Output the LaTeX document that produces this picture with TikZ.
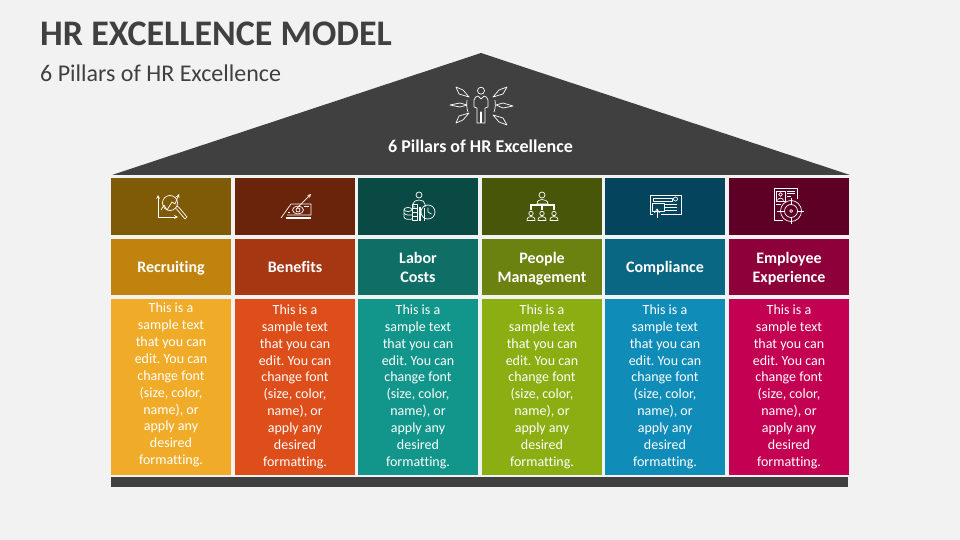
\documentclass[tikz,border=0pt]{standalone}
\usepackage{fontspec}
\setmainfont{Carlito}[Ligatures=NoCommon]
\definecolor{bg}{HTML}{F2F2F2}
\definecolor{dark}{HTML}{404040}
\definecolor{aA}{HTML}{7F5A07}\definecolor{aB}{HTML}{C0840E}\definecolor{aC}{HTML}{F0AC28}
\definecolor{bA}{HTML}{6B240C}\definecolor{bB}{HTML}{A53712}\definecolor{bC}{HTML}{DE4E1A}
\definecolor{cA}{HTML}{0A4A44}\definecolor{cB}{HTML}{0F6E66}\definecolor{cC}{HTML}{12958A}
\definecolor{dA}{HTML}{475608}\definecolor{dB}{HTML}{6B8210}\definecolor{dC}{HTML}{8BAE12}
\definecolor{eA}{HTML}{04445C}\definecolor{eB}{HTML}{0A6784}\definecolor{eC}{HTML}{0F8DB8}
\definecolor{fA}{HTML}{5E0025}\definecolor{fB}{HTML}{8E0039}\definecolor{fC}{HTML}{C30052}
\newcommand{\bodylines}{This is a\\sample text\\that you can\\edit. You can\\change font\\(size, color,\\name), or\\apply any\\desired\\formatting.}
\newcommand{\hs}{\rule[-4pt]{0pt}{13.6pt}}
\tikzset{
  x=1pt,y=-1pt,
  cell/.style={draw=none,inner sep=0pt,minimum width=120pt,text=white},
  iconcell/.style={cell,minimum height=57pt},
  headcell/.style={cell,minimum height=56pt},
  headtext/.style={inner sep=0pt,text=white,align=center,font=\fontsize{16}{19}\selectfont\bfseries},
  bodycell/.style={cell,minimum height=176pt},
  bodytext/.style={inner sep=0pt,text=white,align=center,font=\fontsize{14}{16.9}\selectfont\frenchspacing},
  ic/.style={draw=white,line width=0.7pt,line join=round,fill=none},
  icb/.style={draw=white,line width=1.1pt,fill=none},
}
\begin{document}
\begin{tikzpicture}
\useasboundingbox (0,0) rectangle (960,540);
\fill[bg] (0,0) rectangle (960,540);
\node[anchor=west,inner sep=0pt,text=dark,font=\fontsize{36}{40}\selectfont\bfseries] (title) at (40,34) {HR EXCELLENCE MODEL};
\node[anchor=west,inner sep=0pt,text=dark,font=\fontsize{24}{28}\selectfont] (subtitle) at (40,73) {6 Pillars of HR Excellence};
% roof
\fill[dark] (481,53) -- (850,175) -- (112,175) -- cycle;
\node[inner sep=0pt,text=white,font=\fontsize{18}{22}\selectfont\bfseries] (rooflabel) at (480.5,146.5) {6 Pillars of HR Excellence};
% base
\fill[dark] (111,477) rectangle (848,487);
% cells
\node[iconcell,fill=aA] (i1) at (171,206.5) {};
\node[iconcell,fill=bA] (i2) at (295,206.5) {};
\node[iconcell,fill=cA] (i3) at (418,206.5) {};
\node[iconcell,fill=dA] (i4) at (542,206.5) {};
\node[iconcell,fill=eA] (i5) at (665,206.5) {};
\node[iconcell,fill=fA] (i6) at (789,206.5) {};
\node[headcell,fill=aB] (h1) at (171,267) {};
\node[headcell,fill=bB] (h2) at (295,267) {};
\node[headcell,fill=cB] (h3) at (418,267) {};
\node[headcell,fill=dB] (h4) at (542,267) {};
\node[headcell,fill=eB] (h5) at (665,267) {};
\node[headcell,fill=fB] (h6) at (789,267) {};
\node[headtext] (l1) at (171,269) {Recruiting\hs};
\node[headtext] (l2) at (295,269) {Benefits\hs};
\node[headtext] (l3) at (418,269) {Labor\hs\\Costs\hs};
\node[headtext] (l4) at (542,269) {People\hs\\Management\hs};
\node[headtext] (l5) at (665,269) {Compliance\hs};
\node[headtext] (l6) at (789,269) {Employee\hs\\Experience\hs};
\node[bodycell,fill=aC] (b1) at (171,386.5) {};
\node[bodycell,fill=bC] (b2) at (295,386.5) {};
\node[bodycell,fill=cC] (b3) at (418,386.5) {};
\node[bodycell,fill=dC] (b4) at (542,386.5) {};
\node[bodycell,fill=eC] (b5) at (665,386.5) {};
\node[bodycell,fill=fC] (b6) at (789,386.5) {};
\node[bodytext] (t1) at (171,385) {\bodylines};
\node[bodytext] (t2) at (295,386.7) {\bodylines};
\node[bodytext] (t3) at (418,386.7) {\bodylines};
\node[bodytext] (t4) at (542,386.7) {\bodylines};
\node[bodytext] (t5) at (665,386.7) {\bodylines};
\node[bodytext] (t6) at (789,386.7) {\bodylines};
% roof icon
\draw[ic] (481,90.7) circle (3.5);
\draw[ic] (477,123) -- (477,108) -- (474,107) -- (474,100) .. controls (474,97) and (477,96.5) .. (478,96) -- (481,99) -- (484,96) .. controls (485,96.5) and (488,97) .. (488,100) -- (488,107) -- (485,108) -- (485,123) -- (481.5,123) -- (481.5,112) -- (480.5,112) -- (480.5,123) -- cycle;
\draw[ic] (469,97) -- (463,90) -- (456,87) -- (459,94) -- cycle;
\draw[ic] (467,105) -- (460,103) -- (450,105) -- (460,107) -- cycle;
\draw[ic] (469,113) -- (463,120) -- (456,123) -- (459,116) -- cycle;
\draw[ic] (493,97) -- (499,90) -- (507,87) -- (503,94) -- cycle;
\draw[ic] (496,105) -- (503,103) -- (513,106) -- (503,108) -- cycle;
\draw[ic] (493,115) -- (499,122) -- (507,125) -- (503,118) -- cycle;
\draw[ic] (467,100) .. controls (466.5,104) and (466.5,108) .. (468,112);
\draw[ic] (495,100) .. controls (495.5,104) and (495.5,108) .. (494,112);
% icon 1: recruiting
\draw[ic,-stealth] (158,217) -- (158,195);
\draw[ic,-stealth] (158,217) -- (178,217);
\draw[ic] (170,203) circle (7.5);
\draw[ic] (175.5,208) -- (177,209.5) -- (185,219) -- (187,217) -- (179,207.5) -- (177,206);
\draw[ic,-stealth] (161,210) -- (164,205) -- (167,210) -- (172,202) -- (175,204) -- (179,194);
% icon 2: benefits
\draw[ic,-stealth] (297,208) -- (311,194);
\draw[ic] (281,218) -- (291,204) -- (311,204) -- (311,215) -- (287,215);
\draw[ic] (298,210) ellipse (5.5 and 4);
\draw[ic] (298,210) circle (2);
\draw[ic] (304,206) -- (309,206) (288,212) -- (290,212);
\draw[icb] (286,218) -- (311,218);
% icon 3: labor costs
\draw[ic] (419,195) circle (3);
\draw[ic] (415,207) -- (413,207) -- (413,204) .. controls (413,201) and (416,200.5) .. (419,200) .. controls (422,200.5) and (425,201) .. (425,204) -- (425,207);
\draw[ic] (408,209.5) ellipse (4 and 2);
\draw[ic] (404,209.5) -- (404,217) .. controls (404,219) and (408,220) .. (412,219);
\draw[ic] (404,213) .. controls (405,215) and (409,215.5) .. (412,215);
\draw[ic] (412,204) rectangle (417,220);
\draw[ic] (412,208) -- (417,208) (412,212) -- (417,212) (412,216) -- (417,216);
\draw[icb] (420,207) -- (420,221);
\draw[ic] (424,221) -- (424,208);
\draw[ic] (428,212) circle (7);
\draw[ic] (428,207.5) -- (428,212) -- (431.5,214);
% icon 4: people management
\draw[ic] (542,195) circle (3);
\draw[ic] (537,204) .. controls (537,200) and (540,200) .. (542,199.5) .. controls (544,200) and (548,200) .. (548,204) -- cycle;
\draw[icb] (531,210) -- (531,205) -- (554,205) -- (554,210) (542,204) -- (542,210);
\foreach \px/\nm in {531/a,542/b,554/c}{
  \draw[ic] (\px,213.5) circle (2.2);
  \draw[ic] (\px-4,220.5) .. controls (\px-4,217) and (\px-2,217) .. (\px,216.5) .. controls (\px+2,217) and (\px+4,217) .. (\px+4,220.5) -- cycle;
}
% icon 5: compliance
\draw[ic] (661,214) -- (681,214) -- (681,195) -- (650,195) -- (650,214) -- (653,214);
\draw[ic] (653,198) rectangle (672,201);
\draw[ic] (675.5,199) circle (2);
\draw[ic] (652,203.5) rectangle (664,211);
\draw[ic] (665,204.5) -- (677,204.5) (665,207.5) -- (677,207.5) (665,210.5) -- (677,210.5);
\draw[ic] (657,218) -- (657,209);
\draw[ic] (654.5,213) -- (657,209) -- (659.5,213);
% icon 6: employee experience
\draw[ic] (783,220) -- (774,220) -- (774,188) -- (797,188) -- (797,199);
\draw[ic] (776,191) rectangle (785,201);
\draw[ic] (780.5,194.5) circle (1.8);
\draw[ic] (777.5,200.5) .. controls (777.5,197.5) and (783.5,197.5) .. (783.5,200.5);
\draw[ic] (787,191) -- (795,191) (787,193.5) -- (795,193.5) (787,196) -- (791,196);
\draw[ic] (776,204) -- (781,204);
\draw[ic] (791,211) circle (10.5);
\draw[ic] (791,211) circle (6.5);
\draw[ic] (791,211) circle (1.5);
\draw[ic] (777,211) -- (785,211) (797,211) -- (804,211) (791,198) -- (791,205) (791,217) -- (791,224);
\end{tikzpicture}
\end{document}
